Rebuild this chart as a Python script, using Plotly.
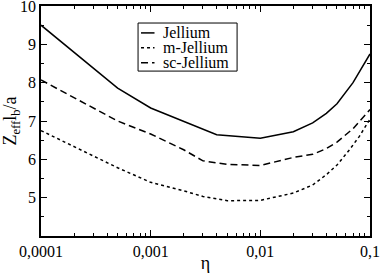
import plotly.graph_objects as go

eta_j = [1e-4, 2e-4, 5e-4, 1e-3, 2e-3, 4e-3, 1e-2, 2e-2, 3e-2, 4e-2, 5e-2, 7e-2, 1e-1]
jellium = [9.5, 8.8, 7.86, 7.34, 6.98, 6.64, 6.55, 6.72, 6.95, 7.2, 7.45, 8.0, 8.75]

eta_m = [1e-4, 2e-4, 5e-4, 1e-3, 2e-3, 3e-3, 5e-3, 1e-2, 2e-2, 3e-2, 4e-2, 5e-2, 6.5e-2, 8e-2, 1e-1]
m_jellium = [6.75, 6.33, 5.78, 5.4, 5.18, 5.03, 4.92, 4.93, 5.12, 5.33, 5.6, 5.85, 6.25, 6.6, 7.05]

eta_s = [1e-4, 2e-4, 5e-4, 1e-3, 2e-3, 3e-3, 5e-3, 1e-2, 2e-2, 3e-2, 4e-2, 5e-2, 7e-2, 1e-1]
sc_jellium = [8.07, 7.6, 7.0, 6.66, 6.25, 5.96, 5.87, 5.84, 6.05, 6.13, 6.28, 6.45, 6.8, 7.3]

series_names = ["Jellium", "m-Jellium", "sc-Jellium"]
series_dash = ["solid", "dot", "7px,4px"]

x_tickvals = [1e-4, 1e-3, 1e-2, 1e-1]
x_ticktext = ["0,0001", "0,001", "0,01", "0,1"]
x_minor = [m * 10 ** e for e in (-4, -3, -2) for m in range(2, 10)]
y_tickvals = [5, 6, 7, 8, 9, 10]

font = "Liberation Serif, DejaVu Serif, serif"

fig = go.Figure()
for xs, ys, name, dash in zip([eta_j, eta_m, eta_s], [jellium, m_jellium, sc_jellium],
                              series_names, series_dash):
    fig.add_trace(go.Scatter(x=xs, y=ys, mode="lines", name=name, showlegend=False,
                             line=dict(color="black", width=1.5, dash=dash)))

# legend drawn as a framed box in paper coordinates
box = dict(x0=0.295, x1=0.596, y0=0.717, y1=0.926)
row_y = [0.883, 0.818, 0.753]
fig.add_shape(type="rect", xref="paper", yref="paper", line=dict(color="black", width=1),
              fillcolor="white", layer="above", **box)
for yy, name, dash in zip(row_y, series_names, series_dash):
    fig.add_shape(type="line", xref="paper", yref="paper", x0=0.304, x1=0.345, y0=yy, y1=yy,
                  line=dict(color="black", width=1.5, dash=dash), layer="above")
    fig.add_annotation(xref="paper", yref="paper", x=0.366, y=yy, text=name, showarrow=False,
                       xanchor="left", yanchor="middle",
                       font=dict(family=font, size=16, color="black"))

axis_common = dict(showline=True, linecolor="black", linewidth=1.5, mirror="ticks",
                   ticks="inside", ticklen=6, tickwidth=1, tickcolor="black",
                   showgrid=False, zeroline=False, ticklabeloverflow="allow", automargin=False,
                   tickfont=dict(family=font, size=16, color="black"))

fig.update_layout(
    width=382, height=273,
    margin=dict(l=41, r=12, t=6, b=37),
    paper_bgcolor="white", plot_bgcolor="white",
    font=dict(family=font, color="black"),
    showlegend=False,
    xaxis=dict(type="log", range=[-4, -1], tickvals=x_tickvals, ticktext=x_ticktext,
               minor=dict(tickvals=x_minor, ticks="inside", ticklen=3, tickcolor="black", showgrid=False),
               title=dict(text="η", font=dict(family=font, size=18, color="black"), standoff=2),
               **axis_common),
    yaxis=dict(range=[4, 10], tickvals=y_tickvals,
               minor=dict(dtick=0.5, ticks="inside", ticklen=3, tickcolor="black", showgrid=False),
               title=dict(text="Z<sub>eff</sub>l<sub>b</sub>/a", font=dict(family=font, size=18, color="black"), standoff=4),
               **axis_common),
)

fig.write_html("out.html", config={"displayModeBar": False},
               post_script="document.body.style.margin='0px';document.body.style.padding='0px';")
